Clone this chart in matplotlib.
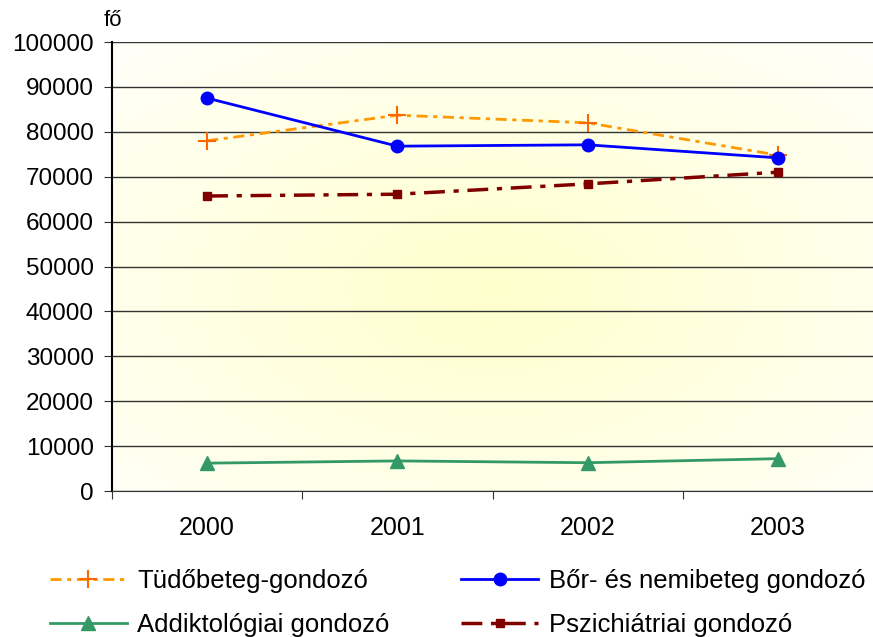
import numpy as np
import matplotlib.pyplot as plt

plt.rcParams['font.family'] = ['Liberation Sans', 'DejaVu Sans']

# data
evek = ['2000', '2001', '2002', '2003']
tudobeteg = [78000, 83700, 82000, 74800]
borbeteg = [87500, 76800, 77100, 74200]
addiktologiai = [6200, 6700, 6300, 7200]
pszichiatriai = [65700, 66100, 68400, 71000]

fig = plt.figure(figsize=(8.73, 6.37), dpi=100)
ax = fig.add_axes([112 / 873, 1 - 491 / 637, 1 - 112 / 873, (491 - 42) / 637])

# radial background gradient
gx, gy = np.meshgrid(np.linspace(0, 1, 300), np.linspace(0, 1, 300))
r = np.sqrt(((gx - 0.50) / 0.7) ** 2 + ((gy - 0.55) / 0.7) ** 2)
r = np.clip(r, 0, 1)
c0 = np.array([1.0, 1.0, 0.80])
c1 = np.array([1.0, 1.0, 0.97])
img = c0[None, None, :] * (1 - r[..., None]) + c1[None, None, :] * r[..., None]
ax.imshow(img, extent=[0, 1, 0, 1], transform=ax.transAxes, aspect='auto', zorder=0)

x = np.arange(len(evek))
ax.plot(x, tudobeteg, color='#FF9900', linestyle=(0, (4, 2, 1.5, 2)), linewidth=2,
        marker='+', markersize=13, markeredgewidth=1.5, markeredgecolor='#FF6600',
        label='Tüdőbeteg-gondozó', zorder=3)
ax.plot(x, addiktologiai, color='#339966', linewidth=2, marker='^', markersize=10,
        label='Addiktológiai gondozó', zorder=3)
ax.plot(x, borbeteg, color='#0000FF', linewidth=2, marker='o', markersize=9,
        label='Bőr- és nemibeteg gondozó', zorder=3)
ax.plot(x, pszichiatriai, color='#800000', linestyle=(0, (6, 2.5, 1.5, 2.5)), linewidth=2.5,
        marker='s', markersize=6, label='Pszichiátriai gondozó', zorder=3)

ax.set_xlim(-0.5, 3.5)
ax.set_ylim(0, 100000)
ax.set_yticks(np.arange(0, 100001, 10000))
ax.grid(axis='y', color='#333333', linewidth=1)
for gl in ax.get_ygridlines():
    gl.set_zorder(1)

ax.set_xticks(np.arange(-0.5, 3.5, 1))
ax.set_xticklabels([])
ax.set_xticks(x, minor=True)
ax.set_xticklabels(evek, minor=True, fontsize=18)
ax.tick_params(axis='x', which='minor', length=0, pad=18)
ax.tick_params(axis='x', which='major', length=6, color='#333333')
ax.tick_params(axis='y', labelsize=17.5, length=6, color='#333333', pad=7)

for s in ['top', 'right']:
    ax.spines[s].set_visible(False)
ax.spines['left'].set_linewidth(1.5)
ax.spines['bottom'].set_color('#333333')

fig.text(104 / 873, 1 - 20 / 637, 'fő', fontsize=16, va='center')

fig.legend(loc='center', bbox_to_anchor=(0.524, 1 - 603 / 637), ncol=2, frameon=False,
           fontsize=18.5, handlelength=3.0, handletextpad=0.4, columnspacing=2.8,
           labelspacing=0.8)

fig.savefig('out.png', dpi=100)
